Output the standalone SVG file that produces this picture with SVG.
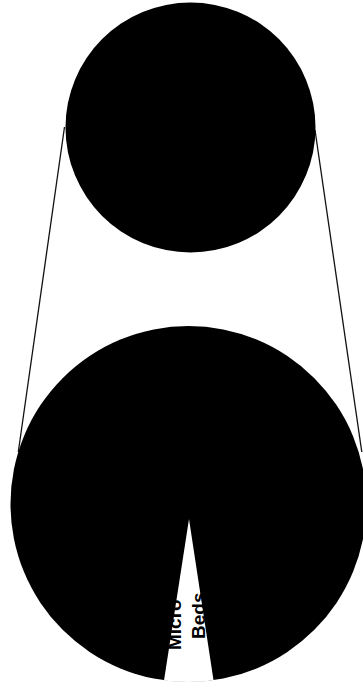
<svg xmlns="http://www.w3.org/2000/svg" width="363" height="688" viewBox="0 0 363 688">
<style>
.disc{fill:#000}
.conn{stroke:#111;stroke-width:1.3;fill:none}
.lbl{font-family:"Liberation Sans",Arial,sans-serif;font-weight:bold;font-size:19px;fill:#000}
</style>
<rect width="363" height="688" fill="#fff"/>
<g id="connectors">
<line class="conn" x1="64.5" y1="127" x2="18.3" y2="452"/>
<line class="conn" x1="315" y1="130" x2="361.8" y2="452"/>
</g>
<g id="top-circle">
<circle class="disc" cx="190.5" cy="127.5" r="125"/>
</g>
<g id="bottom-circle">
<circle class="disc" cx="188.5" cy="504" r="178"/>
<path d="M189,519 L164,680.4 A178,178 0 0 0 213.5,680.2 Z" fill="#fff"/>
<text class="lbl" transform="translate(181,650) rotate(-90)">Micro</text>
<text class="lbl" transform="translate(205,639) rotate(-90)">Beds</text>
</g>
</svg>
